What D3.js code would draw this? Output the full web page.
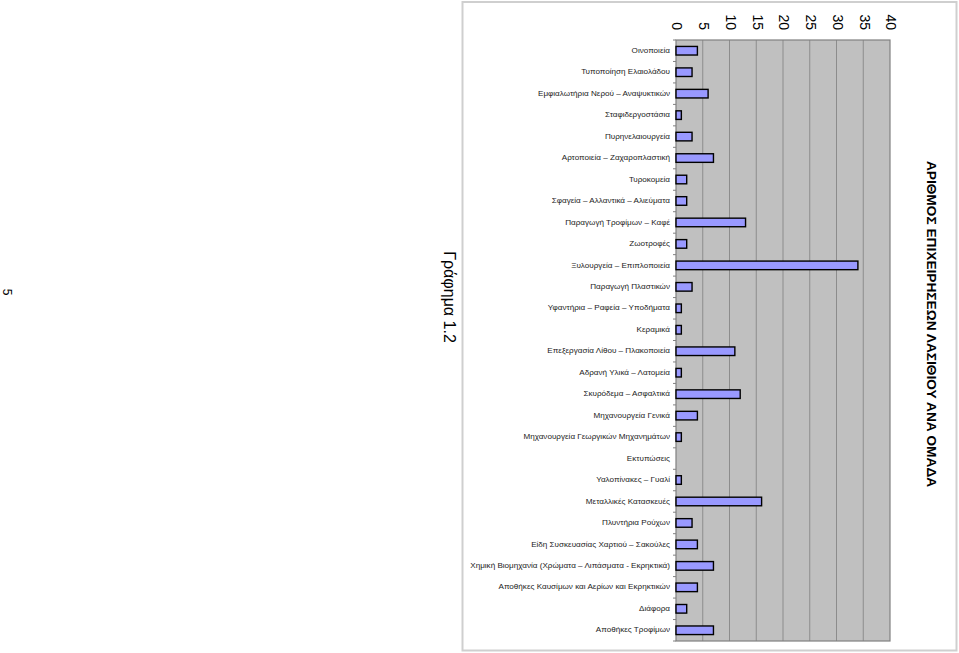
<!DOCTYPE html>
<html>
<head>
<meta charset="utf-8">
<script src="https://cdn.jsdelivr.net/npm/d3@7"></script>
<style>
  html, body { margin: 0; padding: 0; background: #fff; }
  svg { display: block; }
  text { font-family: "Liberation Sans", Arial, sans-serif; }
</style>
</head>
<body>
<svg id="chart" width="959" height="653"></svg>
<script>
const categories = [
  "Οινοποιεία",
  "Τυποποίηση Ελαιολάδου",
  "Εμφιαλωτήρια Νερού – Αναψυκτικών",
  "Σταφιδεργοστάσια",
  "Πυρηνελαιουργεία",
  "Αρτοποιεία – Ζαχαροπλαστική",
  "Τυροκομεία",
  "Σφαγεία – Αλλαντικά – Αλιεύματα",
  "Παραγωγή Τροφίμων – Καφέ",
  "Ζωοτροφές",
  "Ξυλουργεία – Επιπλοποιεία",
  "Παραγωγή Πλαστικών",
  "Υφαντήρια – Ραφεία – Υποδήματα",
  "Κεραμικά",
  "Επεξεργασία Λίθου – Πλακοποιεία",
  "Αδρανή Υλικά – Λατομεία",
  "Σκυρόδεμα – Ασφαλτικά",
  "Μηχανουργεία Γενικά",
  "Μηχανουργεία Γεωργικών Μηχανημάτων",
  "Εκτυπώσεις",
  "Υαλοπίνακες – Γυαλί",
  "Μεταλλικές Κατασκευές",
  "Πλυντήρια Ρούχων",
  "Είδη Συσκευασίας Χαρτιού – Σακούλες",
  "Χημική Βιομηχανία (Χρώματα – Λιπάσματα - Εκρηκτικά)",
  "Αποθήκες Καυσίμων και Αερίων και Εκρηκτικών",
  "Διάφορα",
  "Αποθήκες Τροφίμων"
];
const values = [4, 3, 6, 1, 3, 7, 2, 2, 13, 2, 34, 3, 1, 1, 11, 1, 12, 4, 1, 0, 1, 16, 3, 4, 7, 4, 2, 7];
const valueTicks = [0, 5, 10, 15, 20, 25, 30, 35, 40];
const chartTitle = "ΑΡΙΘΜΟΣ ΕΠΙΧΕΙΡΗΣΕΩΝ ΛΑΣΙΘΙΟΥ ΑΝΑ ΟΜΑΔΑ";
const figureLabel = "Γράφημα 1.2";
const pageNumber = "5";

const svg = d3.select("#chart");

// outer frame
svg.append("rect")
  .attr("x", 462.5).attr("y", 2)
  .attr("width", 494).attr("height", 648.5)
  .attr("fill", "#fff").attr("stroke", "#cfcfcf").attr("stroke-width", 2);

const plot = { left: 676, right: 890, top: 40, bottom: 641 };

const x = d3.scaleLinear().domain([0, 40]).range([plot.left, plot.right]);
const y = d3.scaleBand().domain(categories).range([plot.top, plot.bottom])
  .paddingInner(0.6).paddingOuter(0.3);

// plot background
svg.append("rect")
  .attr("x", plot.left).attr("y", plot.top)
  .attr("width", plot.right - plot.left).attr("height", plot.bottom - plot.top)
  .attr("fill", "#c0c0c0");

// gridlines
svg.append("g").selectAll("line")
  .data(valueTicks.slice(1, -1))
  .join("line")
  .attr("x1", d => x(d)).attr("x2", d => x(d))
  .attr("y1", plot.top).attr("y2", plot.bottom)
  .attr("stroke", "#8c8c8c").attr("stroke-width", 1);

// plot border
svg.append("rect")
  .attr("x", plot.left).attr("y", plot.top)
  .attr("width", plot.right - plot.left).attr("height", plot.bottom - plot.top)
  .attr("fill", "none").attr("stroke", "#808080").attr("stroke-width", 1.2);

// category axis ticks at band boundaries
const boundaries = d3.range(categories.length + 1).map(i => plot.top + i * (plot.bottom - plot.top) / categories.length);
svg.append("g").selectAll("line")
  .data(boundaries)
  .join("line")
  .attr("x1", plot.left - 3).attr("x2", plot.left)
  .attr("y1", d => d).attr("y2", d => d)
  .attr("stroke", "#808080").attr("stroke-width", 1);

// bars
svg.append("g").selectAll("rect")
  .data(categories.map((c, i) => ({ c, v: values[i] })).filter(d => d.v > 0))
  .join("rect")
  .attr("x", x(0))
  .attr("y", d => y(d.c))
  .attr("width", d => x(d.v) - x(0))
  .attr("height", y.bandwidth())
  .attr("fill", "#9999ff")
  .attr("stroke", "#000")
  .attr("stroke-width", 1.4);

// category labels
svg.append("g").selectAll("text")
  .data(categories)
  .join("text")
  .attr("x", plot.left - 6)
  .attr("y", d => y(d) + y.bandwidth() / 2)
  .attr("text-anchor", "end")
  .attr("dominant-baseline", "middle")
  .attr("font-size", 8.1)
  .attr("fill", "#222")
  .text(d => d);

// value tick labels (rotated)
svg.append("g").selectAll("text")
  .data(valueTicks)
  .join("text")
  .attr("transform", d => `translate(${x(d)},30) rotate(90)`)
  .attr("text-anchor", "end")
  .attr("dominant-baseline", "middle")
  .attr("font-size", 14)
  .attr("fill", "#000")
  .text(d => d);

// chart title (rotated)
svg.append("text")
  .attr("transform", "translate(931,324) rotate(90)")
  .attr("text-anchor", "middle")
  .attr("dominant-baseline", "middle")
  .attr("font-size", 13.7)
  .attr("font-weight", "bold")
  .attr("fill", "#000")
  .text(chartTitle);

// figure label
svg.append("text")
  .attr("transform", "translate(448,297) rotate(90)")
  .attr("text-anchor", "middle")
  .attr("dominant-baseline", "middle")
  .attr("font-size", 16)
  .attr("fill", "#000")
  .text(figureLabel);

// page number
svg.append("text")
  .attr("transform", "translate(6,292) rotate(90)")
  .attr("text-anchor", "middle")
  .attr("dominant-baseline", "middle")
  .attr("font-size", 12)
  .attr("fill", "#000")
  .text(pageNumber);
</script>
</body>
</html>
